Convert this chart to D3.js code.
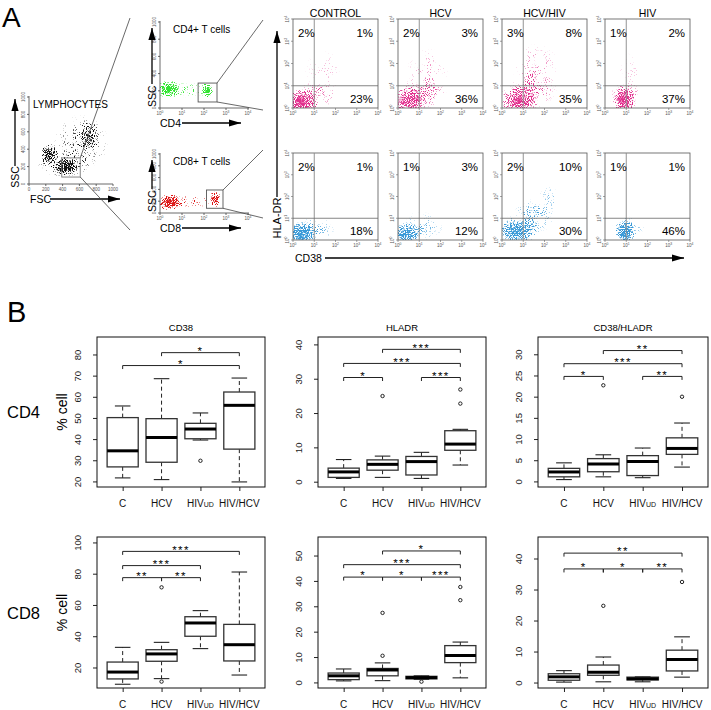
<!DOCTYPE html>
<html><head><meta charset="utf-8">
<script src="https://cdn.jsdelivr.net/npm/d3@7"></script>
<style>body{margin:0;background:#fff}svg{display:block;font-family:"Liberation Sans",Arial,sans-serif}</style>
</head><body><svg id="c" width="711" height="710"></svg>
<script>
// ---------------- DATA ----------------
const groups = ["C","HCV","HIVud","HIV/HCV"];
const markers = ["CD38","HLADR","CD38/HLADR"];
const cellTypes = ["CD4","CD8"];
// box stats: [lower whisker, Q1, median, Q3, upper whisker]
const cd4_cd38 = [[21.9,27.1,34.7,50.4,55.9],[21.1,29.3,41.0,49.9,68.8],[39.8,40.4,45.0,47.7,52.6],[20.0,35.5,56.2,62.5,69.1]];
const cd4_cd38_out = [[],[],[30.0],[]];
const cd4_hladr = [[1.1,1.4,3.0,4.1,6.6],[1.4,3.5,5.2,6.5,7.6],[1.1,2.1,6.0,7.5,8.7],[5.0,9.3,11.1,15.0,15.4]];
const cd4_hladr_out = [[],[25.1],[],[22.9,27.0]];
const cd4_both = [[0.55,1.2,2.35,3.2,4.5],[1.2,2.4,4.2,5.5,6.4],[1.0,1.5,4.8,6.2,8.0],[3.5,6.5,7.9,10.4,13.9]];
const cd4_both_out = [[],[22.8],[],[20.1]];
const cd8_cd38 = [[9.6,13.0,17.4,23.8,33.2],[13.2,24.3,29.0,31.7,36.4],[32.4,40.3,48.8,52.8,56.7],[15.5,24.5,34.9,47.9,81.4]];
const cd8_cd38_out = [[],[11.3,71.6],[],[]];
const cd8_hladr = [[0.8,1.3,2.8,3.9,5.5],[0.9,2.8,5.1,5.7,7.9],[1.4,1.6,2.1,2.6,2.8],[2.0,8.0,10.8,14.7,16.1]];
const cd8_hladr_out = [[],[10.7,27.6],[0.5],[32.6,37.8]];
const cd8_both = [[0.3,0.9,2.0,3.0,4.0],[0.4,2.5,3.5,5.8,8.4],[0.4,1.0,1.4,1.9,2.0],[1.9,3.9,7.6,10.6,14.9]];
const cd8_both_out = [[],[24.9],[],[32.6]];
// significance brackets: [from group, to group, height, label]
const cd4_cd38_sig = [[1,3,81.1,"*"],[0,3,75.0,"*"]];
const cd4_hladr_sig = [[1,3,38.7,"***"],[0,3,34.6,"***"],[0,1,30.5,"*"],[2,3,30.5,"***"]];
const cd4_both_sig = [[1,3,31.0,"**"],[0,3,27.9,"***"],[0,1,24.9,"*"],[2,3,24.9,"**"]];
const cd8_cd38_sig = [[0,3,94.6,"***"],[0,2,85.5,"***"],[0,1,77.8,"**"],[1,2,77.8,"**"]];
const cd8_hladr_sig = [[1,3,52.0,"*"],[0,3,46.6,"***"],[0,1,41.7,"*"],[1,2,41.7,"*"],[2,3,41.7,"***"]];
const cd8_both_sig = [[0,3,41.9,"**"],[0,1,36.8,"*"],[1,2,36.8,"*"],[2,3,36.8,"**"]];
// y tick values per panel
const ticksRow1 = [[20,30,40,50,60,70,80],[0,10,20,30,40],[0,5,10,15,20,25,30]];
const ticksRow2 = [[20,40,60,80,100],[0,10,20,30,40,50],[0,10,20,30,40]];

// Panel A: flow cytometry
const flowGroups = ["CONTROL","HCV","HCV/HIV","HIV"];
// percentages [upper-left, upper-right, lower-right]
const cd4Pct = [[2,1,23],[2,3,36],[3,8,35],[1,2,37]];
const cd8Pct = [[2,1,18],[1,3,12],[2,10,30],[1,1,46]];
const logTicks = [0,1,2,3,4];
const linTicks = [0,200,400,600,800,1000];
// event-density clouds: [x, y, x-spread, y-spread, density]
const lymphClouds = [[440,195,150,110,0.95],[240,340,120,130,0.85],[720,560,130,190,0.55],[420,230,330,160,0.4],[620,470,330,330,0.28]];
const cd4Clouds = [[0.4,220,0.6,110,0.98],[2.15,200,0.3,110,0.98],[1.2,210,1.0,90,0.3]]; // log10 CD4, SSC
const cd8Clouds = [[0.45,180,0.65,150,0.98],[2.5,230,0.3,140,0.98],[1.4,200,1.1,120,0.3]];
// quadrant plots: log10 CD38, log10 HLA-DR
const cd4FlowClouds = [
  [[0.4,0.25,0.9,0.65,0.95],[1.1,0.6,1.0,0.6,0.4],[1.5,1.6,1.0,1.0,0.13]],
  [[0.5,0.3,1.0,0.7,0.9],[1.2,0.7,1.1,0.75,0.45],[1.4,1.7,1.0,1.0,0.2]],
  [[0.8,0.3,1.1,0.7,0.85],[1.4,0.9,1.2,0.9,0.45],[1.6,1.9,1.1,1.0,0.22]],
  [[0.9,0.35,0.55,0.7,0.95],[1.0,0.5,0.8,0.7,0.4],[1.2,1.6,0.7,0.9,0.1]]
];
const cd8FlowClouds = [
  [[0.4,0.3,0.8,0.65,1.0],[1.0,0.5,1.0,0.6,0.35]],
  [[0.4,0.25,0.8,0.6,0.9],[1.1,0.6,1.1,0.7,0.3]],
  [[0.7,0.4,1.1,0.75,0.92],[1.5,1.1,1.0,0.8,0.45],[2.2,1.9,0.5,0.6,0.28]],
  [[0.95,0.35,0.5,0.7,1.0],[1.1,0.5,0.8,0.6,0.33]]
];
const lymphGate = [390,610,80,300];   // FSC range, SSC range
const cd4Gate = [54,390,70,290];      // CD4 range, SSC range
const cd8Gate = [130,730,80,390];

// ---------------- DRAWING ----------------
const svg = d3.select("#c");
const defs = svg.append("defs");
const FONT = '"Liberation Sans",Arial,sans-serif';

const rg = defs.append("radialGradient").attr("id","rg");
rg.append("stop").attr("offset","0%").attr("stop-color","#000").attr("stop-opacity",1);
rg.append("stop").attr("offset","45%").attr("stop-color","#000").attr("stop-opacity",0.7);
rg.append("stop").attr("offset","100%").attr("stop-color","#000").attr("stop-opacity",0);

function makeSpeckle(id, color, seed, freq, gain) {
  const f = defs.append("filter").attr("id", id).attr("filterUnits","userSpaceOnUse")
    .attr("x",0).attr("y",0).attr("width",711).attr("height",710)
    .attr("color-interpolation-filters","sRGB");
  f.append("feTurbulence").attr("type","fractalNoise").attr("baseFrequency",freq).attr("numOctaves",1).attr("seed",seed).attr("result","n");
  f.append("feColorMatrix").attr("in","n").attr("type","matrix").attr("values","0 0 0 0 0  0 0 0 0 0  0 0 0 0 0  2.6 0 0 0 -0.8").attr("result","na");
  f.append("feComposite").attr("in","SourceAlpha").attr("in2","na").attr("operator","arithmetic")
    .attr("k1",0).attr("k2",1).attr("k3",1).attr("k4",-1).attr("result","cmb");
  f.append("feColorMatrix").attr("in","cmb").attr("type","matrix").attr("values",`0 0 0 0 0  0 0 0 0 0  0 0 0 0 0  0 0 0 ${gain} 0`).attr("result","m");
  f.append("feFlood").attr("flood-color",color).attr("result","fl");
  f.append("feComposite").attr("in","fl").attr("in2","m").attr("operator","in");
}
makeSpeckle("spk-k","#111",3,0.9,4);
makeSpeckle("spk-g","#30e530",5,0.9,4);
makeSpeckle("spk-r","#dd1515",7,0.9,4);
makeSpeckle("spk-p","#e2308e",9,0.95,3.2);
makeSpeckle("spk-b","#3a9ad8",11,0.95,3.2);

let clipN = 0;
function clipRect(x,y,w,h){
  const id = "cl"+(clipN++);
  defs.append("clipPath").attr("id",id).append("rect").attr("x",x).attr("y",y).attr("width",w).attr("height",h);
  return "url(#"+id+")";
}
// clouds: xs/ys are scales, xv/yv map a cloud coordinate to the scale's domain
function drawClouds(layer, clouds, xs, ys, xv, yv, filterId){
  const g = layer.append("g").attr("filter","url(#"+filterId+")");
  clouds.forEach(c=>{
    const cx = xs(xv(c[0])), cy = ys(yv(c[1]));
    const rx = Math.abs(xs(xv(c[0]+c[2])) - cx);
    const ry = Math.abs(ys(yv(c[1]+c[3])) - cy);
    g.append("ellipse").attr("cx",cx).attr("cy",cy).attr("rx",rx).attr("ry",ry)
      .attr("fill","url(#rg)").attr("fill-opacity",c[4]);
  });
}
const lin = v=>v, pow10 = v=>Math.pow(10,v);
function arrow(x1,y1,x2,y2){
  svg.append("line").attr("x1",x1).attr("y1",y1).attr("x2",x2).attr("y2",y2).attr("stroke","#000").attr("stroke-width",1.3);
  const a = Math.atan2(y2-y1,x2-x1), L=12, W=3.6;
  const bx = x2 - L*Math.cos(a), by = y2 - L*Math.sin(a);
  const px = -Math.sin(a)*W, py = Math.cos(a)*W;
  svg.append("path").attr("d",`M${x2},${y2}L${bx+px},${by+py}L${bx-px},${by-py}Z`).attr("fill","#000");
}
function txt(x,y,s,size,opts={}){
  const t = svg.append("text").attr("x",x).attr("y",y).attr("font-size",size).attr("font-family",FONT)
    .attr("fill",opts.fill||"#000").attr("text-anchor",opts.anchor||"start").text(s);
  if(opts.rotate) t.attr("transform",`rotate(${opts.rotate},${x},${y})`);
  return t;
}
function sup10(g,x,y,k,size,rot){
  const t = g.append("text").attr("x",x).attr("y",y).attr("font-size",size).attr("font-family",FONT)
    .attr("fill","#555").attr("text-anchor","middle");
  t.append("tspan").text("10");
  t.append("tspan").attr("dy",-size*0.4).attr("font-size",size*0.75).text(k);
  if(rot) t.attr("transform",`rotate(-90,${x},${y})`);
}

// ---- panel letters
txt(2,27,"A",28);
txt(7,322,"B",29);

// ---- lymphocyte plot
{
  const xs = d3.scaleLinear().domain([0,1000]).range([29,113]);
  const ys = d3.scaleLinear().domain([0,1000]).range([184,97]);
  const L = svg.append("g").attr("clip-path",clipRect(29,97,84,87));
  drawClouds(L, lymphClouds, xs, ys, lin, lin, "spk-k");
  const ax = svg.append("g").attr("stroke","#444").attr("stroke-width",0.8);
  ax.append("line").attr("x1",29).attr("y1",184).attr("x2",113).attr("y2",184);
  ax.append("line").attr("x1",29).attr("y1",184).attr("x2",29).attr("y2",96);
  linTicks.forEach(t=>{
    ax.append("line").attr("x1",xs(t)).attr("x2",xs(t)).attr("y1",184).attr("y2",186);
    ax.append("line").attr("y1",ys(t)).attr("y2",ys(t)).attr("x1",29).attr("x2",27);
    svg.append("text").attr("x",xs(t)).attr("y",191).attr("font-size",4.5).attr("fill","#555").attr("text-anchor","middle").text(t);
    svg.append("text").attr("x",25).attr("y",ys(t)).attr("font-size",4.5).attr("fill","#555").attr("text-anchor","middle")
      .attr("transform",`rotate(-90,25,${ys(t)})`).text(t);
  });
  svg.append("rect").attr("x",xs(lymphGate[0])).attr("y",ys(lymphGate[3])).attr("width",xs(lymphGate[1])-xs(lymphGate[0]))
    .attr("height",ys(lymphGate[2])-ys(lymphGate[3])).attr("fill","none").attr("stroke","#777").attr("stroke-width",0.9);
  txt(33,108,"LYMPHOCYTES",10);
  txt(19,177,"SSC",10.5,{rotate:-90,anchor:"middle"});
  arrow(15,166,15,99);
  txt(30,203,"FSC",10.5);
  arrow(50,199,120,199);
  svg.append("line").attr("x1",xs(lymphGate[1])).attr("y1",ys(lymphGate[3])).attr("x2",130).attr("y2",18).attr("stroke","#444").attr("stroke-width",0.8);
  svg.append("line").attr("x1",xs(lymphGate[1])).attr("y1",ys(lymphGate[2])).attr("x2",130).attr("y2",230).attr("stroke","#444").attr("stroke-width",0.8);
}

// ---- CD4 / CD8 gating plots
function gatingPlot(top,bottom,clouds,gate,filt,title,lab,lineEnds){
  const xs = d3.scaleLog().domain([1,1e4]).range([160,248]);
  const ys = d3.scaleLinear().domain([0,1000]).range([bottom,top]);
  const L = svg.append("g").attr("clip-path",clipRect(160,top,88,bottom-top));
  drawClouds(L, clouds, xs, ys, pow10, lin, filt);
  const ax = svg.append("g").attr("stroke","#444").attr("stroke-width",0.8);
  ax.append("line").attr("x1",160).attr("y1",bottom).attr("x2",249).attr("y2",bottom);
  ax.append("line").attr("x1",160).attr("y1",bottom).attr("x2",160).attr("y2",top-1);
  logTicks.forEach(k=>{
    const x = xs(Math.pow(10,k));
    ax.append("line").attr("x1",x).attr("x2",x).attr("y1",bottom).attr("y2",bottom+2);
    sup10(svg,x,bottom+7,k,4.5,false);
  });
  linTicks.forEach(t=>{
    ax.append("line").attr("y1",ys(t)).attr("y2",ys(t)).attr("x1",160).attr("x2",158);
    svg.append("text").attr("x",156).attr("y",ys(t)).attr("font-size",4.5).attr("fill","#555").attr("text-anchor","middle")
      .attr("transform",`rotate(-90,156,${ys(t)})`).text(t);
  });
  const gx0 = xs(gate[0]), gx1 = xs(gate[1]), gy0 = ys(gate[3]), gy1 = ys(gate[2]);
  svg.append("rect").attr("x",gx0).attr("y",gy0).attr("width",gx1-gx0).attr("height",gy1-gy0)
    .attr("fill","none").attr("stroke","#555").attr("stroke-width",0.9);
  txt(173,top+11,title,10);
  txt(156,bottom-1,"SSC",10.5,{rotate:-90,anchor:"start"});
  arrow(152,bottom-24,152,top+6);
  txt(160,bottom+19,lab,10.5);
  arrow(182,bottom+15,241,bottom+15);
  svg.append("line").attr("x1",gx1).attr("y1",gy0).attr("x2",263).attr("y2",lineEnds[0]).attr("stroke","#444").attr("stroke-width",0.8);
  svg.append("line").attr("x1",gx1).attr("y1",gy1).attr("x2",263).attr("y2",lineEnds[1]).attr("stroke","#444").attr("stroke-width",0.8);
}
gatingPlot(22,108,cd4Clouds,cd4Gate,"spk-g","CD4+ T cells","CD4",[20,110]);
gatingPlot(154,213,cd8Clouds,cd8Gate,"spk-r","CD8+ T cells","CD8",[150,218]);

// ---- quadrant plots
const qLefts = [293,398,502,605], qW = 85;
function quadPlot(i, top, bottom, clouds, pct, filt){
  const x0 = qLefts[i];
  const xs = d3.scaleLog().domain([1,1e4]).range([x0,x0+qW]);
  const ys = d3.scaleLog().domain([1,1e4]).range([bottom,top]);
  const L = svg.append("g").attr("clip-path",clipRect(x0,top,qW,bottom-top));
  drawClouds(L, clouds, xs, ys, pow10, pow10, filt);
  svg.append("rect").attr("x",x0).attr("y",top).attr("width",qW).attr("height",bottom-top)
    .attr("fill","none").attr("stroke","#555").attr("stroke-width",0.8);
  svg.append("line").attr("x1",xs(10)).attr("x2",xs(10)).attr("y1",top).attr("y2",bottom).attr("stroke","#888").attr("stroke-width",0.9);
  svg.append("line").attr("x1",x0).attr("x2",x0+qW).attr("y1",ys(10)).attr("y2",ys(10)).attr("stroke","#666").attr("stroke-width",0.8);
  logTicks.forEach(k=>{
    const v = Math.pow(10,k);
    svg.append("line").attr("x1",xs(v)).attr("x2",xs(v)).attr("y1",bottom).attr("y2",bottom+2).attr("stroke","#666").attr("stroke-width",0.6);
    svg.append("line").attr("x1",x0).attr("x2",x0-2).attr("y1",ys(v)).attr("y2",ys(v)).attr("stroke","#666").attr("stroke-width",0.6);
    sup10(svg,xs(v),bottom+7,k,4.5,false);
    sup10(svg,x0-4,ys(v),k,4.5,true);
  });
  txt(x0+5,top+18,pct[0]+"%",11.5);
  txt(x0+qW-5,top+18,pct[1]+"%",11.5,{anchor:"end"});
  txt(x0+qW-5,bottom-5,pct[2]+"%",11.5,{anchor:"end"});
}
flowGroups.forEach((name,i)=>{
  quadPlot(i,19,108,cd4FlowClouds[i],cd4Pct[i],"spk-p");
  quadPlot(i,153,240,cd8FlowClouds[i],cd8Pct[i],"spk-b");
  txt(qLefts[i]+qW/2,17,name,10.5,{anchor:"middle"});
});
txt(281,218,"HLA-DR",11,{rotate:-90,anchor:"middle"});
arrow(277,197,277,31);
txt(295,262,"CD38",10.5);
arrow(325,258,684,258);

// ---------------- PANEL B: boxplots ----------------
const colX = [[97,265],[318,486],[538,708]];
const rowY = [[337,487],[537,688]];
const domains = [[[17.6,88.5],[-1.4,42.3],[-1.2,34.2]],[[7.2,103.8],[-2.0,57.5],[-1.6,47.1]]];
const statsAll = [[cd4_cd38,cd4_hladr,cd4_both],[cd8_cd38,cd8_hladr,cd8_both]];
const outAll = [[cd4_cd38_out,cd4_hladr_out,cd4_both_out],[cd8_cd38_out,cd8_hladr_out,cd8_both_out]];
const sigAll = [[cd4_cd38_sig,cd4_hladr_sig,cd4_both_sig],[cd8_cd38_sig,cd8_hladr_sig,cd8_both_sig]];
const tickAll = [ticksRow1, ticksRow2];

cellTypes.forEach((ct,r)=>{
  const [y0,y1] = rowY[r];
  const yc = (y0+y1)/2;
  txt(7,yc+6,ct,16.5);
  txt(67,yc,"% cell",14,{rotate:-90,anchor:"middle"});
  markers.forEach((mk,c)=>{
    const [x0,x1] = colX[c];
    const x = d3.scaleLinear().domain([0.34,4.66]).range([x0,x1]);
    const y = d3.scaleLinear().domain(domains[r][c]).range([y1,y0]);
    const g = svg.append("g");
    if(r===0) txt((x0+x1)/2,331,mk,9.5,{anchor:"middle"});
    const ya = g.append("g").attr("transform",`translate(${x0},0)`)
      .call(d3.axisLeft(y).tickValues(tickAll[r][c]).tickSize(4).tickFormat(d3.format("d")));
    ya.select(".domain").remove();
    ya.selectAll("line").attr("stroke","#222");
    ya.selectAll("text").attr("font-size",9.5).attr("font-family",FONT).attr("fill","#222")
      .attr("text-anchor","middle").attr("x",0).attr("dy",0)
      .attr("transform",d=>`translate(-19,${y(d)}) rotate(-90) translate(0,3.4)`).attr("y",0);
    ya.selectAll(".tick").attr("transform",null);
    ya.selectAll(".tick line").attr("y1",d=>y(d)).attr("y2",d=>y(d));
    const xa = g.append("g").attr("transform",`translate(0,${y1})`)
      .call(d3.axisBottom(x).tickValues([1,2,3,4]).tickSize(4).tickFormat(""));
    xa.select(".domain").remove();
    xa.selectAll("line").attr("stroke","#222");
    groups.forEach((gname,i)=>{
      const t = g.append("text").attr("x",x(i+1)).attr("y",y1+19.5).attr("font-size",10).attr("font-family",FONT)
        .attr("text-anchor","middle").attr("fill","#111");
      if(gname==="HIVud"){ t.append("tspan").text("HIV"); t.append("tspan").attr("font-size",7).text("UD"); }
      else t.text(gname);
    });
    const st = statsAll[r][c], outs = outAll[r][c];
    st.forEach((s,i)=>{
      const cx = x(i+1), hw = x(1.4)-x(1), cw = x(1.2)-x(1);
      g.append("line").attr("x1",cx).attr("x2",cx).attr("y1",y(s[3])).attr("y2",y(s[4])).attr("stroke","#222").attr("stroke-dasharray","4,3").attr("stroke-width",1);
      g.append("line").attr("x1",cx).attr("x2",cx).attr("y1",y(s[1])).attr("y2",y(s[0])).attr("stroke","#222").attr("stroke-dasharray","4,3").attr("stroke-width",1);
      g.append("line").attr("x1",cx-cw).attr("x2",cx+cw).attr("y1",y(s[4])).attr("y2",y(s[4])).attr("stroke","#222").attr("stroke-width",1.1);
      g.append("line").attr("x1",cx-cw).attr("x2",cx+cw).attr("y1",y(s[0])).attr("y2",y(s[0])).attr("stroke","#222").attr("stroke-width",1.1);
      g.append("rect").attr("x",cx-hw).attr("width",2*hw).attr("y",y(s[3])).attr("height",y(s[1])-y(s[3]))
        .attr("fill","#fff").attr("stroke","#333").attr("stroke-width",1.3);
      g.append("line").attr("x1",cx-hw).attr("x2",cx+hw).attr("y1",y(s[2])).attr("y2",y(s[2])).attr("stroke","#000").attr("stroke-width",3);
      outs[i].forEach(o=>{
        g.append("circle").attr("cx",cx).attr("cy",y(o)).attr("r",1.7).attr("fill","#fff").attr("stroke","#222").attr("stroke-width",1);
      });
    });
    sigAll[r][c].forEach(sg=>{
      const xa1 = x(sg[0]+1), xa2 = x(sg[1]+1), yy = y(sg[2]);
      g.append("path").attr("d",`M${xa1},${yy+3.5}V${yy}H${xa2}V${yy+3.5}`).attr("fill","none").attr("stroke","#222").attr("stroke-width",1);
      g.append("text").attr("x",(xa1+xa2)/2).attr("y",yy+2.3).attr("font-size",11.5).attr("letter-spacing",1.4)
        .attr("font-family",FONT).attr("text-anchor","middle").text(sg[3]);
    });
    g.append("rect").attr("x",x0).attr("y",y0).attr("width",x1-x0).attr("height",y1-y0).attr("fill","none").attr("stroke","#111").attr("stroke-width",1);
  });
});
</script></body></html>
